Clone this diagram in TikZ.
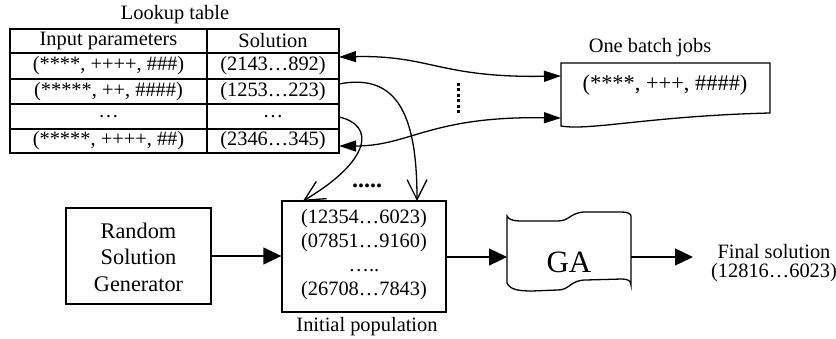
\documentclass[tikz,border=0pt]{standalone}
\usepackage{fontspec}
\setmainfont{Liberation Serif}
\usetikzlibrary{arrows.meta}
\begin{document}
\begin{tikzpicture}[x=1pt,y=-1pt,line width=1.3pt,
  txt/.style={font=\fontsize{20.4}{24}\selectfont,inner sep=0pt,align=center},
  big/.style={-{Triangle[length=18pt,width=17pt]}},
  dbl/.style={{Triangle[length=17pt,width=11pt]}-{Triangle[length=17pt,width=11pt]}},
  barb/.style={-{Straight Barb[length=20pt,width=20pt,line width=1.3pt]}},
  boxline/.style={draw,line width=1.3pt,inner sep=0pt}]
\useasboundingbox (0,0) rectangle (836,339);
% lookup table
\node[txt] (lt) at (175,15) {Lookup table};
\draw[line width=1.2pt] (10,29) rectangle (339,153);
\foreach \yy in {53,79,104,129} \draw[line width=1.2pt] (10,\yy) -- (339,\yy);
\draw[line width=1.2pt] (207,29) -- (207,153);
\node[txt] (h1) at (108.5,41) {Input parameters};
\node[txt] (h2) at (273,41) {Solution};
\node[txt] (a1) at (108.5,66) {(****, ++++, \#\#\#)};
\node[txt] (b1) at (273,66) {(2143…892)};
\node[txt] (a2) at (108.5,91.5) {(*****, ++, \#\#\#\#)};
\node[txt] (b2) at (273,91.5) {(1253…223)};
\node[txt] (a3) at (108.5,116.5) {…};
\node[txt] (b3) at (273,116.5) {…};
\node[txt] (a4) at (108.5,141) {(*****, ++++, \#\#)};
\node[txt] (b4) at (273,141) {(2346…345)};
\coordinate (t1) at (339,57);
\coordinate (t2) at (339,84);
\coordinate (t3) at (339,117);
\coordinate (t4) at (339,146);
% batch box
\node[txt] (bl) at (650,48) {One batch jobs};
\draw (561,126) -- (561,63) -- (770,63) -- (770,113) .. controls (650,116) and (590,131) .. cycle;
\node[txt,font=\fontsize{22.4}{24}\selectfont] (bj) at (665,85) {(****, +++, \#\#\#\#)};
\coordinate (bt1) at (561,76);
\coordinate (bt2) at (561,118);
\draw[dbl] (t1) .. controls (430,55) and (440,78) .. (bt1);
\draw[dbl] (t4) .. controls (410,146) and (430,116) .. (bt2);
\draw[line width=3pt,dash pattern=on 3pt off 2.5pt] (458,83) -- (458,113);
% random solution generator
\node[boxline,minimum width=145pt,minimum height=96pt] (rsg) at (138.5,256) {};
\node[txt,font=\fontsize{22.3}{26.5}\selectfont] (rsgt) at (138.5,257) {Random\\Solution\\Generator};
% initial population
\node[boxline,minimum width=164pt,minimum height=111pt] (pop) at (364,256.5) {};
\node[txt] (popt) at (364,255) {(12354…6023)\\(07851…9160)\\…..\\(26708…7843)};
\node[txt] (popl) at (367,327) {Initial population};
\node[txt,font=\bfseries\fontsize{24}{24}\selectfont] (dots) at (367,186) {.....};
\coordinate (p1) at (417,201);
\coordinate (p2) at (303,201);
\draw[barb] (t2) .. controls (400,72) and (417,120) .. (p1);
\draw[barb] (t3) .. controls (375,125) and (372,160) .. (p2);
% GA
\draw (507,216) .. controls (510,222) and (520,221) .. (532,221) -- (558,221)
  .. controls (570,221) and (570,212) .. (586,212) -- (622,212)
  .. controls (628,212) and (631,214) .. (631,216) -- (631,285)
  .. controls (631,281) and (628,279) .. (622,279) -- (586,280)
  .. controls (570,280) and (570,290) .. (558,290) -- (532,291)
  .. controls (520,291) and (510,290) .. (507,283) -- cycle;
\node[txt,font=\fontsize{31}{31}\selectfont] (ga) at (569,262) {GA};
\coordinate (gaW) at (507,257);
\coordinate (gaE) at (631,257);
% final
\node[txt,font=\fontsize{20.4}{19}\selectfont] (fin) at (774,263) {Final solution\\(12816…6023)};
\coordinate (finT) at (693,257);
\draw[big] (rsg.east) -- (rsg.east -| pop.west);
\draw[big] (pop.east |- gaW) -- (gaW);
\draw[big] (gaE) -- (finT);
\end{tikzpicture}
\end{document}
